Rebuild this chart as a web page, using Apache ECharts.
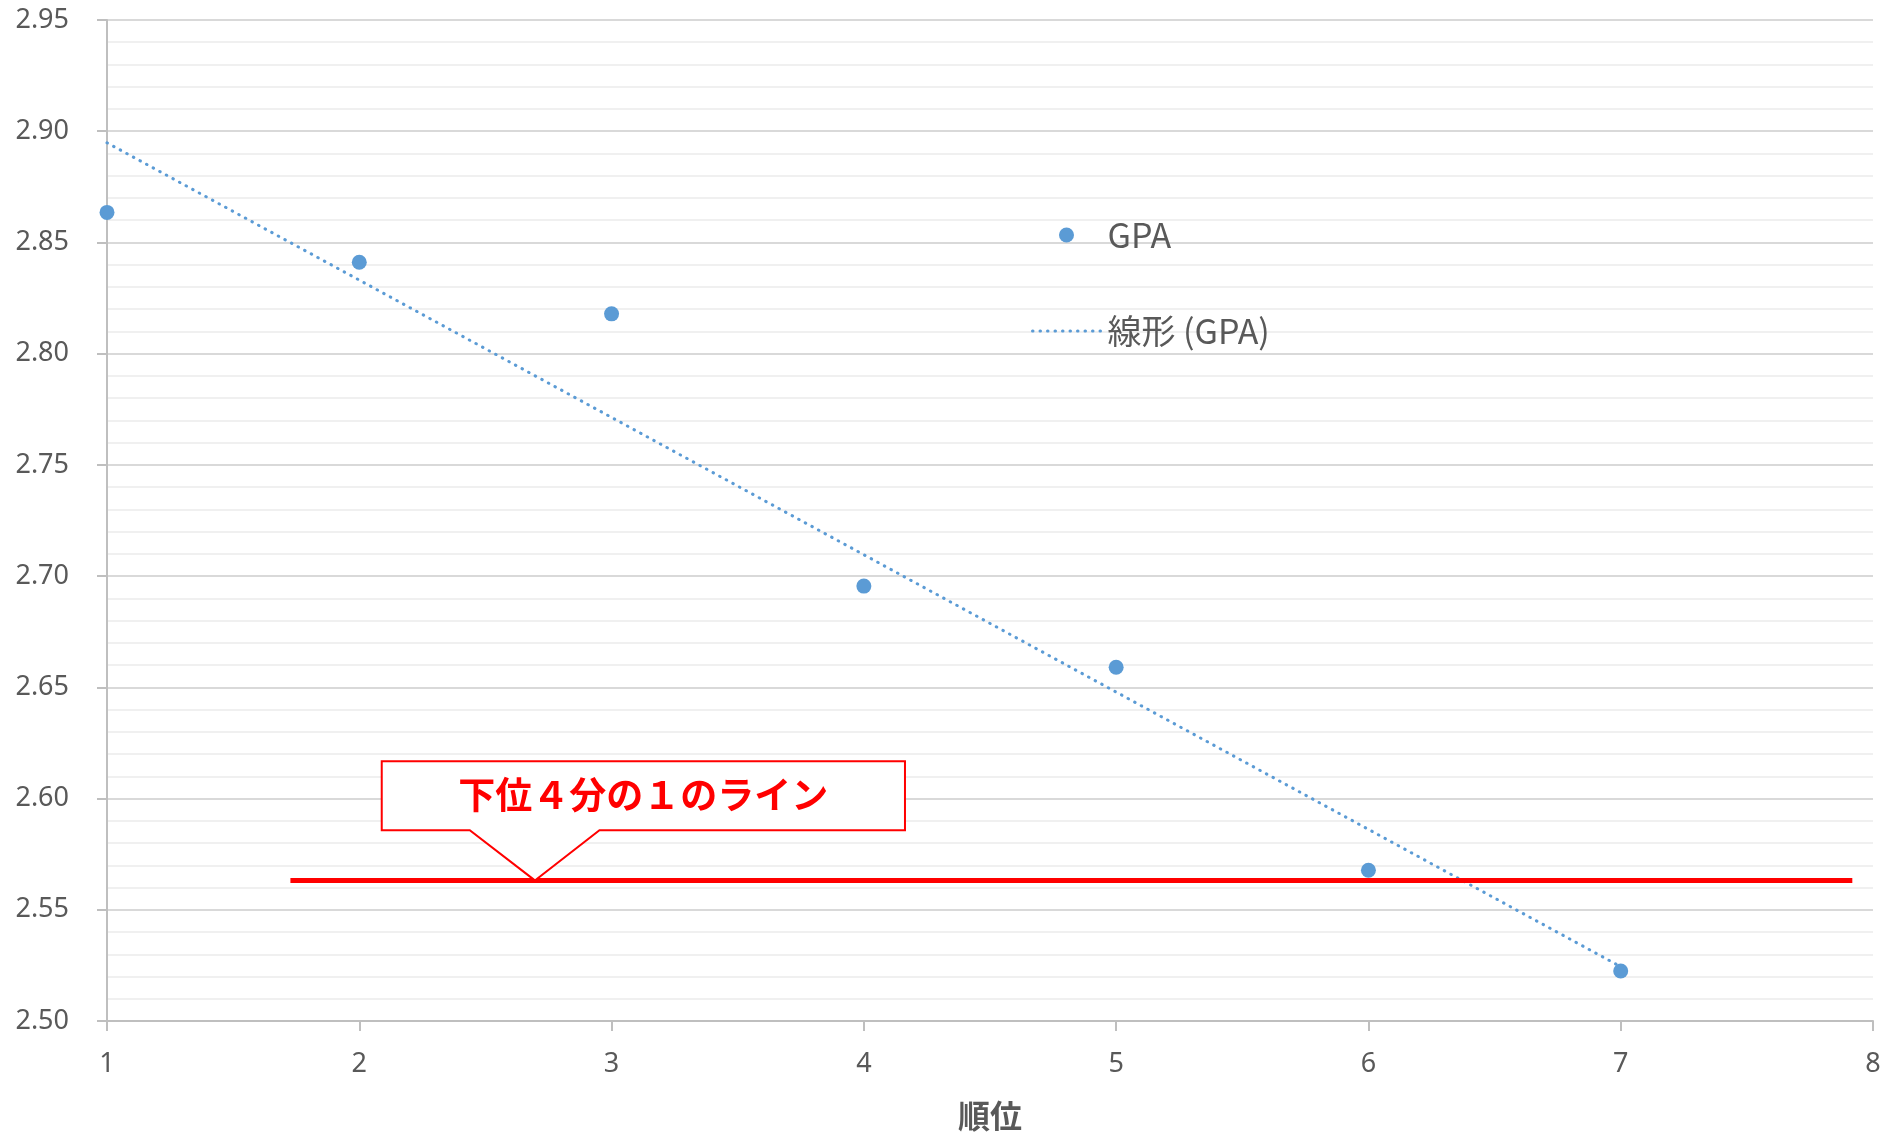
<!DOCTYPE html>
<html>
<head>
<meta charset="utf-8">
<script src="https://cdn.jsdelivr.net/npm/echarts@6/dist/echarts.min.js"></script>
<style>
html,body{margin:0;padding:0;background:#fff;}
#chart{width:1899px;height:1137px;}
</style>
</head>
<body>
<div id="chart"></div>
<script>
// ---- data ----
var ranks = [1, 2, 3, 4, 5, 6, 7];
var gpa = [2.8635, 2.8411, 2.8179, 2.6955, 2.659, 2.5678, 2.5225];
var quartileValue = 2.5632;
var quartileSpan = [1.727, 7.918];
var calloutText = '下位４分の１のライン';
var seriesNames = ['GPA', '線形 (GPA)'];
var xAxisName = '順位';

// ---- layout for annotation (data-space anchors) ----
var callout = {
  left: 2.089, right: 4.163, top: 2.6168, bottom: 2.5858,
  baseLeft: 2.438, baseRight: 2.952, tipX: 2.696, tipY: quartileValue
};

// least-squares trendline from the data
function linreg(xs, ys) {
  var n = xs.length, sx = 0, sy = 0, sxx = 0, sxy = 0;
  for (var i = 0; i < n; i++) { sx += xs[i]; sy += ys[i]; sxx += xs[i]*xs[i]; sxy += xs[i]*ys[i]; }
  var b = (n*sxy - sx*sy) / (n*sxx - sx*sx);
  var a = (sy - b*sx) / n;
  return {a: a, b: b};
}
var fit = linreg(ranks, gpa);
var xMin = Math.min.apply(null, ranks), xMax = Math.max.apply(null, ranks);
var trend = [[xMin, fit.a + fit.b*xMin], [xMax, fit.a + fit.b*xMax]];

var FONT = '"Noto Sans", "Noto Sans CJK JP", sans-serif';
var JP = '"Noto Sans CJK JP", "Noto Sans", sans-serif';
var BLUE = '#5b9bd5';
var DOTTED = {color: BLUE, width: 3, type: [0.5, 7], cap: 'round'};

var chart = echarts.init(document.getElementById('chart'), null, {renderer: 'canvas'});
chart.setOption({
  animation: false,
  backgroundColor: '#ffffff',
  grid: {left: 107, right: 26, top: 20, bottom: 116, outerBoundsMode: 'none'},
  legend: {
    orient: 'vertical',
    left: 1026, top: 210,
    itemWidth: 68, itemHeight: 15, itemGap: 56,
    data: [
      {name: seriesNames[0]},
      {name: seriesNames[1], itemStyle: {opacity: 0}, lineStyle: DOTTED}
    ],
    textStyle: {fontSize: 34, color: '#595959', fontFamily: JP, lineHeight: 40, padding: [0,0,0,2]}
  },
  xAxis: {
    type: 'value', min: 1, max: 8, interval: 1,
    name: xAxisName, nameLocation: 'middle', nameGap: 79,
    nameTextStyle: {fontSize: 32, fontWeight: 'bold', color: '#595959', fontFamily: JP},
    axisLine: {show: true, lineStyle: {color: '#bfbfbf', width: 2}},
    axisTick: {show: true, length: 10, lineStyle: {color: '#bfbfbf', width: 2}},
    axisLabel: {fontSize: 27, color: '#595959', fontFamily: FONT, margin: 30},
    splitLine: {show: false}
  },
  yAxis: {
    type: 'value', min: 2.5, max: 2.95, interval: 0.05,
    axisLine: {show: true, lineStyle: {color: '#bfbfbf', width: 2}},
    axisTick: {show: true, length: 10, lineStyle: {color: '#bfbfbf', width: 2}},
    axisLabel: {fontSize: 27, color: '#595959', fontFamily: FONT, margin: 38, padding: [4,0,0,0],
      formatter: function (v) { return v.toFixed(2); }},
    splitLine: {show: true, lineStyle: {color: '#d9d9d9', width: 2}},
    minorTick: {show: false, splitNumber: 5},
    minorSplitLine: {show: true, lineStyle: {color: '#f0f0f0', width: 2}}
  },
  series: [
    {
      name: seriesNames[1], type: 'line', data: trend, symbol: 'none', z: 3,
      lineStyle: DOTTED,
      itemStyle: {color: BLUE}
    },
    {
      name: 'quartile', type: 'line', symbol: 'none', z: 4,
      data: [[quartileSpan[0], quartileValue], [quartileSpan[1], quartileValue]],
      lineStyle: {color: '#ff0000', width: 5}
    },
    {
      name: seriesNames[0], type: 'scatter', symbolSize: 15, z: 5,
      data: ranks.map(function (r, i) { return [r, gpa[i]]; }),
      itemStyle: {color: BLUE, opacity: 1}
    }
  ]
});

function px(x, y) { return chart.convertToPixel({gridIndex: 0}, [x, y]); }
var pLT = px(callout.left, callout.top), pRB = px(callout.right, callout.bottom);
var pBL = px(callout.baseLeft, callout.bottom), pBR = px(callout.baseRight, callout.bottom);
var pTip = px(callout.tipX, callout.tipY);
chart.setOption({
  graphic: [
    {
      type: 'polygon', z: 100,
      shape: {points: [
        [pLT[0], pLT[1]], [pRB[0], pLT[1]], [pRB[0], pRB[1]], [pBR[0], pRB[1]],
        [pTip[0], pTip[1]], [pBL[0], pRB[1]], [pLT[0], pRB[1]]
      ]},
      style: {fill: '#ffffff', stroke: '#ff0000', lineWidth: 2}
    },
    {
      type: 'text', z: 101,
      x: (pLT[0] + pRB[0]) / 2, y: (pLT[1] + pRB[1]) / 2 - 1,
      style: {text: calloutText, fill: '#ff0000', align: 'center', verticalAlign: 'middle',
        font: 'bold 37px "Noto Sans CJK JP", sans-serif'}
    }
  ]
});
</script>
</body>
</html>
